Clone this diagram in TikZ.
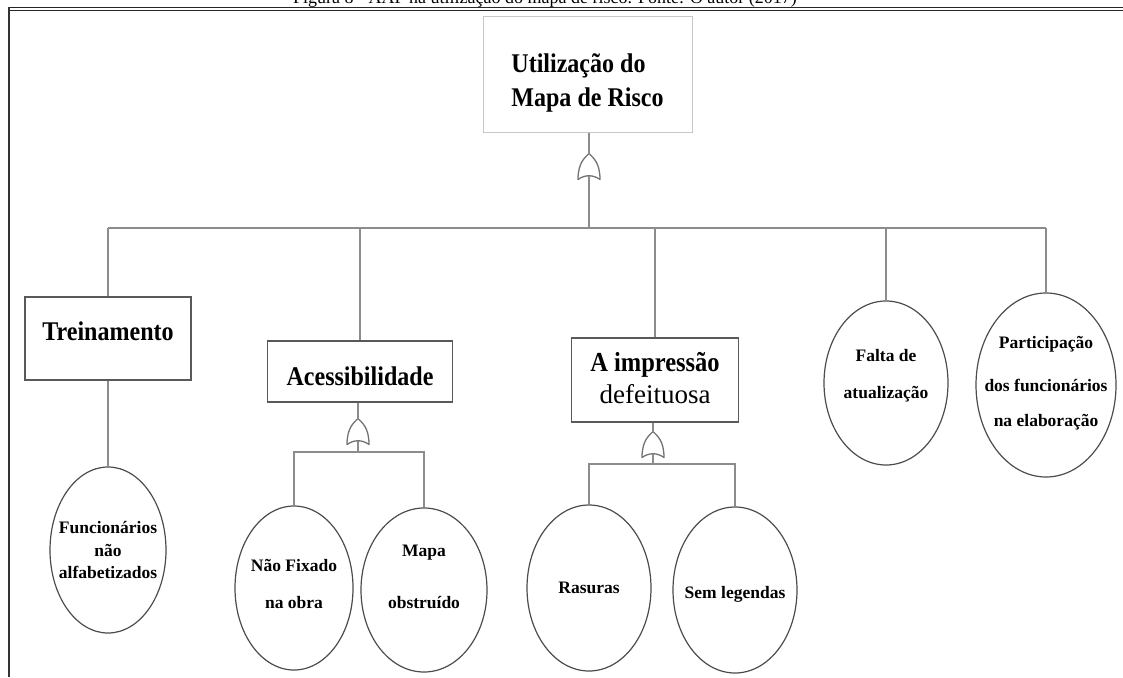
\documentclass[tikz,border=0pt]{standalone}
\usepackage{fontspec}
\setmainfont{Liberation Serif}
\newfontfamily\narrowserif[FakeStretch=0.89]{Liberation Serif}
\usetikzlibrary{shapes.geometric}
\newcommand\etext[3][c]{\raisebox{#2}[0pt][0pt]{\makebox[0pt]{\begin{tabular}{@{}#1@{}}#3\end{tabular}}}}
\begin{document}
\begin{tikzpicture}[x=1pt,y=-1pt,
  conn/.style={draw=black!45, line width=1.3pt},
  evbox/.style={rectangle, draw=black!65, line width=1.4pt, inner sep=0pt, font=\narrowserif\bfseries\fontsize{27}{30}\selectfont},
  basic/.style={ellipse, draw=black!70, line width=1.2pt, inner sep=0pt, font=\bfseries\fontsize{17.5}{22.5}\selectfont},
  gateline/.style={draw=black!55, line width=1.3pt, fill=white, line join=round},
  orgate/.pic={
    \draw[gateline] (0,-13) .. controls (4,-9) and (11,-4) .. (11,13) .. controls (4,8) and (-4,8) .. (-11,13) .. controls (-11,-4) and (-4,-9) .. cycle;
    \coordinate (-top) at (0,-13);
    \coordinate (-bot) at (0,9.3);
  }]
\useasboundingbox (0,0) rectangle (1123,677);
\clip (0,0) rectangle (1123,677);

% caption (cut by the top edge, as in the reference)
\node[font=\fontsize{18}{20}\selectfont, anchor=base, inner sep=0pt] (cap) at (545,3.5) {Figura 8 - AAF na utilização do mapa de risco. Fonte: O autor (2017)};

% frame
\draw[line width=1.6pt, black!85] (8,7.5) -- (1123,7.5);
\draw[line width=1.6pt, black!85] (8,10.5) -- (1123,10.5);
\draw[line width=2pt, black!80] (8.5,6.7) -- (8.5,677);

% events
\node[evbox, draw=black!22, line width=1pt, font=\narrowserif\bfseries\fontsize{27}{34}\selectfont, minimum width=209, minimum height=115] (root) at (587.5,74.5) {\etext[l]{-14pt}{Utilização do\\Mapa de Risco}};
\node[evbox, minimum width=166, minimum height=83] (treino) at (108,338.5) {\etext{-2pt}{Treinamento}};
\node[evbox, minimum width=185, minimum height=61] (acess) at (360,371.5) {\etext{-14pt}{Acessibilidade}};
\node[evbox, font=\fontsize{27}{32}\selectfont, minimum width=167, minimum height=84] (impr) at (655,380) {\etext{-7pt}{{\narrowserif\bfseries\fontsize{27.5}{32}\selectfont A impressão}\\defeituosa}};

% basic events
\node[basic, minimum width=116, minimum height=166] (func) at (108,550) {\etext{-6pt}{Funcionários\\não\\alfabetizados}};
\node[basic, minimum width=118, minimum height=164] (naofix) at (294,588) {\etext{-1.5pt}{Não Fixado\\[14.5pt]na obra}};
\node[basic, minimum width=126, minimum height=164] (mapaobs) at (424,590) {\etext{8pt}{Mapa\\[29.5pt]obstruído}};
\node[basic, minimum width=124, minimum height=166] (rasuras) at (589,588) {\etext{-5pt}{Rasuras}};
\node[basic, minimum width=124, minimum height=166] (semleg) at (735,590) {\etext{-8pt}{Sem legendas}};
\node[basic, minimum width=124, minimum height=164] (falta) at (886,383) {\etext{3.5pt}{Falta de\\[14.5pt]atualização}};
\node[basic, minimum width=140, minimum height=184] (partic) at (1046,385) {\etext{-2pt}{Participação\\[20.5pt]dos funcionários\\[12.5pt]na elaboração}};

% gates
\pic (g1) at (589,166.5) {orgate};
\pic (g2) at (358,431.5) {orgate};
\pic (g3) at (653,444.5) {orgate};

% connectors
\coordinate (bus) at (0,228);
\coordinate (bus2) at (0,452);
\coordinate (bus3) at (0,464);
\draw[conn] (g1-top |- root.south) -- (g1-top);
\draw[conn] (g1-bot) -- (g1-bot |- bus);
\draw[conn] (treino.north |- bus) -- (partic.north |- bus);
\foreach \n in {treino,acess,impr,falta,partic} \draw[conn] (\n.north |- bus) -- (\n.north);
\draw[conn] (treino) -- (func);
\draw[conn] (g2-top |- acess.south) -- (g2-top);
\draw[conn] (g2-bot) -- (g2-bot |- bus2);
\draw[conn] (naofix.north) |- (g2-bot |- bus2) -| (mapaobs.north);
\draw[conn] (g3-top |- impr.south) -- (g3-top);
\draw[conn] (g3-bot) -- (g3-bot |- bus3);
\draw[conn] (rasuras.north) |- (g3-bot |- bus3) -| (semleg.north);
\end{tikzpicture}
\end{document}
